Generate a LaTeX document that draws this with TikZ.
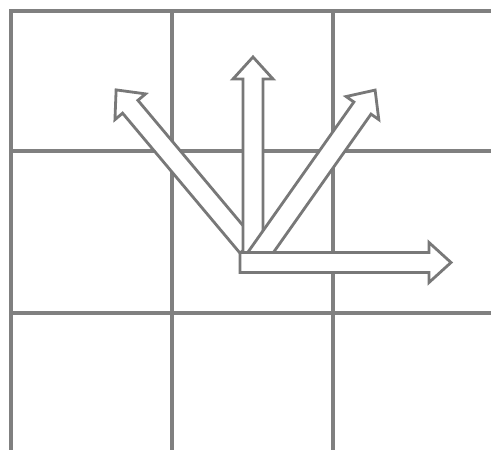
\documentclass[tikz,border=0pt]{standalone}
\definecolor{gridgray}{RGB}{128,128,128}
\definecolor{arrowgray}{RGB}{120,120,120}
\tikzset{
  gridline/.style={draw=gridgray, line width=2pt, line join=miter},
  arrowline/.style={draw=arrowgray, fill=white, line width=1.6pt, line join=miter},
}
% #1,#2 base centre (px), #3 angle, #4 length, #5 shaft half-width
\newcommand\hollowarrow[5]{%
  \begin{scope}[shift={(#1,#2)},rotate=#3]
    \draw[arrowline] (0,-#5) -- (#4-22,-#5) -- (#4-22,-20) -- (#4,0)
      -- (#4-22,20) -- (#4-22,#5) -- (0,#5) -- cycle;
  \end{scope}}
\begin{document}
\begin{tikzpicture}[x=0.02cm,y=-0.02cm]
  \fill[white] (0,0) rectangle (491,450);
  \useasboundingbox (0,0) rectangle (491,450);
  % grid
  \draw[gridline] (11,450) -- (11,11) -- (491,11);
  \draw[gridline] (172,11) -- (172,450);
  \draw[gridline] (333,11) -- (333,450);
  \draw[gridline] (11,151) -- (491,151);
  \draw[gridline] (11,313) -- (491,313);
  % arrows (back to front)
  \hollowarrow{247.7}{246.7}{130}{204.7}{10}
  \hollowarrow{253}{258}{90}{201}{10}
  \hollowarrow{255.4}{259.8}{54.8}{207.7}{10.5}
  \hollowarrow{240}{262.5}{0}{211}{10}
\end{tikzpicture}
\end{document}
